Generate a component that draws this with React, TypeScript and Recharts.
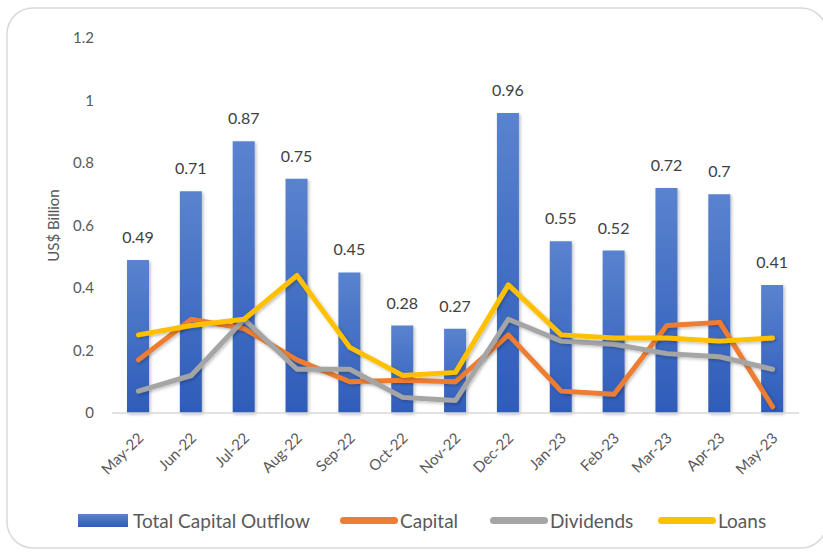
import React from 'react';
import { ComposedChart, Bar, Line, XAxis, YAxis, LabelList } from 'recharts';

const months = ['May-22', 'Jun-22', 'Jul-22', 'Aug-22', 'Sep-22', 'Oct-22', 'Nov-22', 'Dec-22', 'Jan-23', 'Feb-23', 'Mar-23', 'Apr-23', 'May-23'];
const totalOutflow = [0.49, 0.71, 0.87, 0.75, 0.45, 0.28, 0.27, 0.96, 0.55, 0.52, 0.72, 0.7, 0.41];
const capital = [0.17, 0.3, 0.27, 0.17, 0.1, 0.105, 0.1, 0.25, 0.07, 0.06, 0.28, 0.29, 0.02];
const dividends = [0.07, 0.12, 0.3, 0.14, 0.14, 0.05, 0.04, 0.3, 0.23, 0.22, 0.19, 0.18, 0.14];
const loans = [0.25, 0.28, 0.3, 0.44, 0.21, 0.12, 0.13, 0.41, 0.25, 0.24, 0.24, 0.23, 0.24];
const yTicks = [0, 0.2, 0.4, 0.6, 0.8, 1, 1.2];

const FONT = 'Lato, "Open Sans", sans-serif';
const TEXT = '#595959';

const data = months.map((m, i) => ({
  month: m,
  total: totalOutflow[i],
  capital: capital[i],
  dividends: dividends[i],
  loans: loans[i],
}));

// legend entries, left edge of each marker in px
const legendItems = [
  { label: 'Total Capital Outflow', color: '#4472c4', kind: 'box', left: 78 },
  { label: 'Capital', color: '#ed7d31', kind: 'line', left: 340 },
  { label: 'Dividends', color: '#a5a5a5', kind: 'line', left: 490 },
  { label: 'Loans', color: '#ffc000', kind: 'line', left: 658 },
];

// rotated month label, anchored at its end
const MonthTick = (props: any) => {
  const { x, y, payload } = props;
  return (
    <g transform={`translate(${x + 6},${y + 18})`}>
      <text transform="rotate(-45)" textAnchor="end" fill={TEXT} fontSize={15} fontFamily={FONT}>
        {payload.value}
      </text>
    </g>
  );
};

const App: React.FC = () => {
  return (
    <div style={{ position: 'relative', width: 823, height: 552, fontFamily: FONT, background: '#fff' }}>
      <style>{`body{margin:0}`}</style>
      <svg width={823} height={552} style={{ position: 'absolute', left: 0, top: 0 }}>
        <rect x={7} y={8} width={820} height={540} rx={26} ry={26} fill="none" stroke="#d9d9d9" strokeWidth={1.5} />
      </svg>

      <div style={{ position: 'absolute', left: 0, top: 0 }}>
        <ComposedChart
          width={823}
          height={552}
          data={data}
          margin={{ top: 38, right: 24, bottom: 0, left: 0 }}
          barCategoryGap={0}
        >
          <defs>
            <linearGradient id="barFill" x1="0" y1="0" x2="0" y2="1">
              <stop offset="0%" stopColor="#5a83cf" />
              <stop offset="100%" stopColor="#2e5cb9" />
            </linearGradient>
            <filter id="soft" x="-20%" y="-20%" width="140%" height="140%">
              <feDropShadow dx={1.5} dy={1.5} stdDeviation={1.5} floodColor="#000" floodOpacity={0.25} />
            </filter>
          </defs>
          <XAxis
            dataKey="month"
            height={139}
            axisLine={{ stroke: '#d9d9d9', strokeWidth: 1.5 }}
            tickLine={false}
            interval={0}
            tick={<MonthTick />}
          />
          <YAxis
            width={112}
            domain={[0, 1.2]}
            ticks={yTicks}
            axisLine={false}
            tickLine={false}
            tickMargin={12}
            tick={{ fill: TEXT, fontSize: 15, fontFamily: FONT }}
            label={{ value: 'US$ Billion', angle: -90, position: 'center', dx: -2, fill: TEXT, fontSize: 15, fontFamily: FONT }}
          />
          <Bar dataKey="total" barSize={22} fill="url(#barFill)" isAnimationActive={false} style={{ filter: 'url(#soft)' }}>
            <LabelList dataKey="total" position="top" offset={17} fill="#404040" fontSize={16} fontFamily={FONT} />
          </Bar>
          <Line dataKey="capital" stroke="#ed7d31" strokeWidth={5} dot={false} strokeLinecap="round" strokeLinejoin="round" isAnimationActive={false} style={{ filter: 'url(#soft)' }} />
          <Line dataKey="dividends" stroke="#a5a5a5" strokeWidth={5} dot={false} strokeLinecap="round" strokeLinejoin="round" isAnimationActive={false} style={{ filter: 'url(#soft)' }} />
          <Line dataKey="loans" stroke="#ffc000" strokeWidth={5} dot={false} strokeLinecap="round" strokeLinejoin="round" isAnimationActive={false} style={{ filter: 'url(#soft)' }} />
        </ComposedChart>
      </div>

      {legendItems.map((item) => (
        <div
          key={item.label}
          style={{ position: 'absolute', left: item.left, top: 508, height: 24, display: 'flex', alignItems: 'center', color: TEXT, fontSize: 19, whiteSpace: 'nowrap' }}
        >
          {item.kind === 'box' ? (
            <span style={{ display: 'inline-block', width: 50, height: 13, background: 'linear-gradient(#5a83cf, #2e5cb9)', marginRight: 5 }} />
          ) : (
            <span style={{ display: 'inline-block', width: 58, height: 7, borderRadius: 4, background: item.color, marginRight: 2 }} />
          )}
          <span>{item.label}</span>
        </div>
      ))}
    </div>
  );
};

export default App;
